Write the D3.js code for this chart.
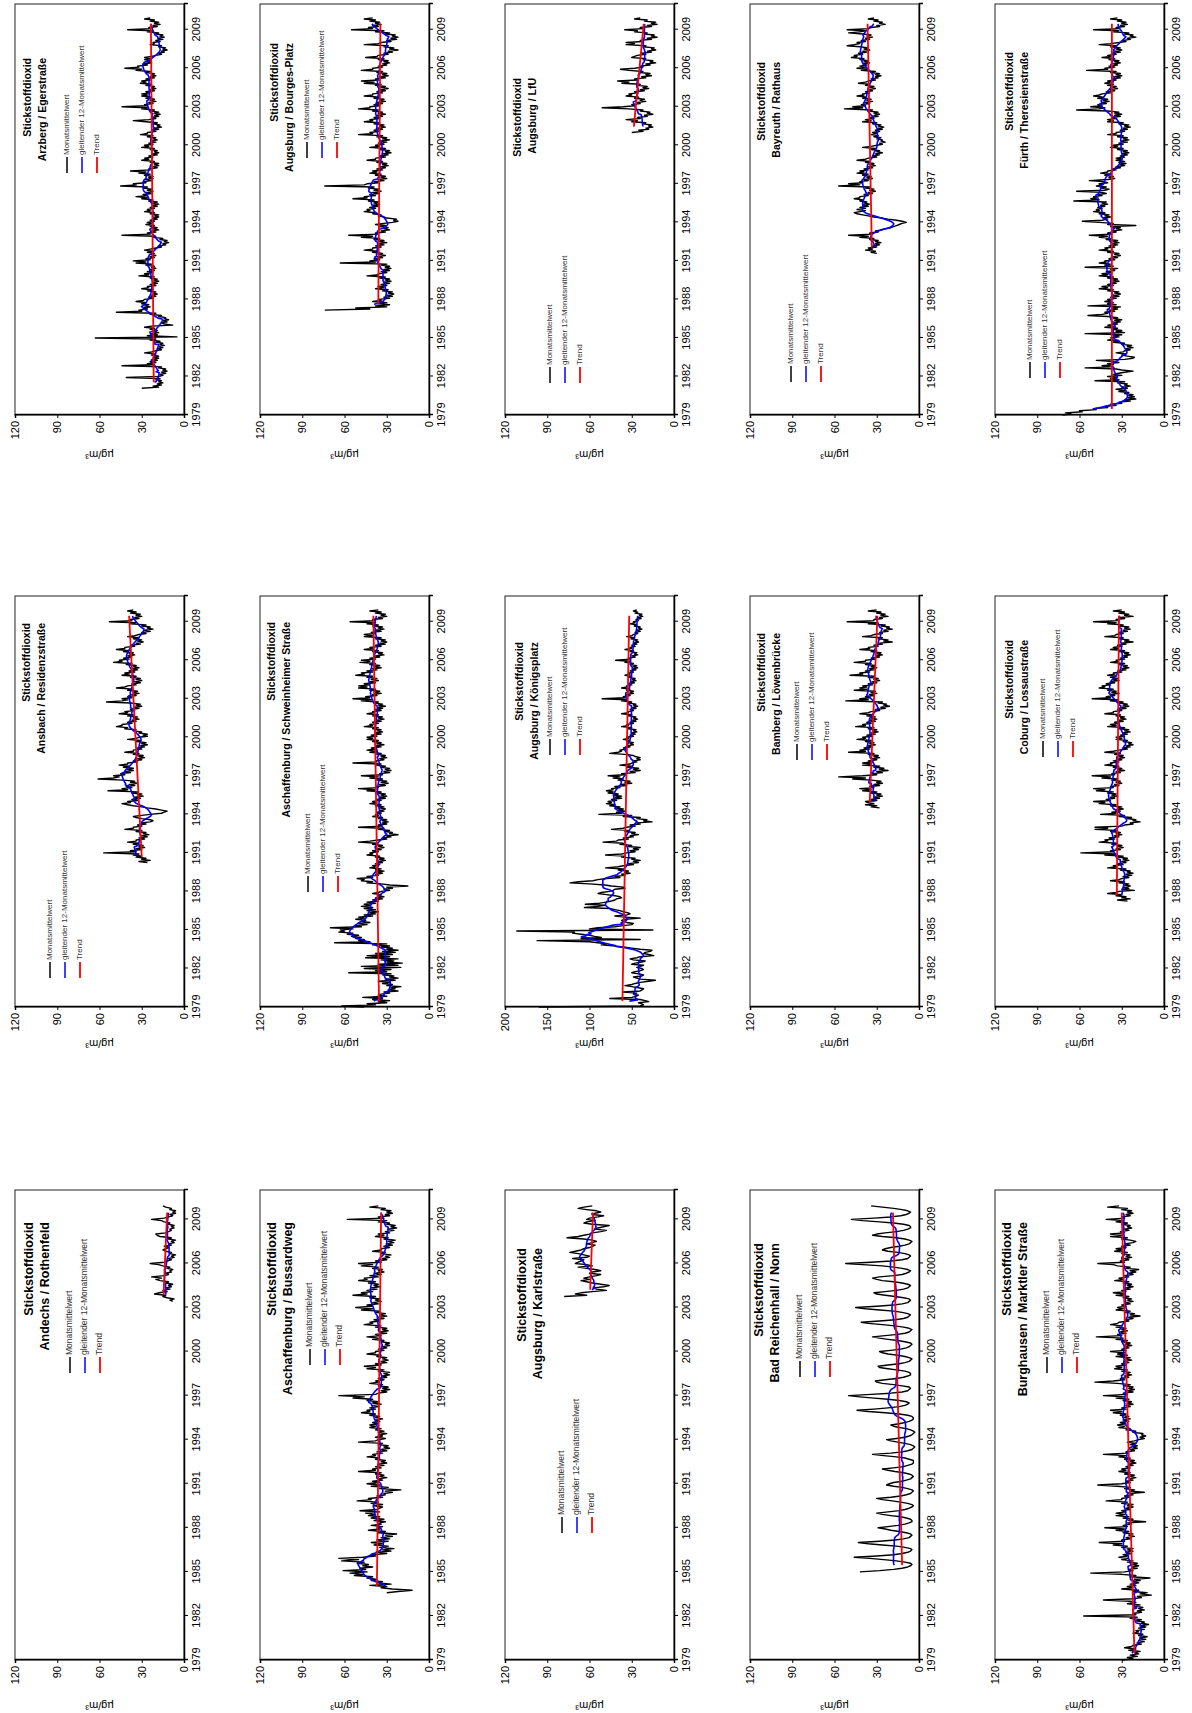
<!DOCTYPE html>
<html lang="de">
<head>
<meta charset="utf-8">
<title>Stickstoffdioxid – Monatsmittelwerte</title>
<script src="https://cdn.jsdelivr.net/npm/d3@7"></script>
<style>
  html, body { margin: 0; padding: 0; background: #fff; }
  svg { display: block; font-family: "Liberation Sans", Arial, sans-serif; }
</style>
</head>
<body>
<svg id="page" width="1192" height="1713"></svg>
<script>
/* NO2 monthly means of 15 stations, landscape sheet printed sideways */

const stations = [
  'Andechs / Rothenfeld', 'Ansbach / Residenzstraße', 'Arzberg / Egerstraße',
  'Aschaffenburg / Bussardweg', 'Aschaffenburg / Schweinheimer Straße', 'Augsburg / Bourges-Platz',
  'Augsburg / Karlstraße', 'Augsburg / Königsplatz', 'Augsburg / LfU',
  'Bad Reichenhall / Nonn', 'Bamberg / Löwenbrücke', 'Bayreuth / Rathaus',
  'Burghausen / Marktler Straße', 'Coburg / Lossaustraße', 'Fürth / Theresienstraße'
];
const startMonths = [
  '2003-06', '1990-04', '1981-02',
  '1983-08', '1979-01', '1987-03',
  '2003-10', '1979-01', '2001-01',
  '1985-01', '1994-07', '1991-08',
  '1979-01', '1987-04', '1979-01'
];
// trend line, value at start and at end
const trends = [
  [14.5, 12], [30, 39], [21.5, 23.5],
  [37, 34], [35.5, 39.5], [36, 34.5],
  [59.5, 57.5], [61, 53], [28.5, 21.5],
  [12, 18.5], [35, 29.5], [33.5, 36.5],
  [21, 30], [33.5, 32], [37, 37]
];
const yMaxes = [120, 120, 120, 120, 120, 120, 120, 200, 120, 120, 120, 120, 120, 120, 120];
const yearTicks = [1979, 1982, 1985, 1988, 1991, 1994, 1997, 2000, 2003, 2006, 2009];
const legendLabels = ['Monatsmittelwert', 'gleitender 12-Monatsmittelwert', 'Trend'];

// monthly means, one row per year
const andechs = [
  8, 10, 7, 12, 15, 13, 21,
  18, 12, 15, 10, 13, 9, 11, 8, 13, 11, 17, 20,
  16, 23, 14, 11, 13, 9, 10, 8, 12, 10, 15, 18,
  24, 14, 12, 9, 11, 7, 9, 6, 10, 9, 13, 15,
  13, 11, 14, 9, 11, 7, 9, 6, 11, 9, 17, 19,
  20, 13, 11, 9, 10, 7, 9, 7, 11, 10, 14, 16,
  23, 14, 11, 8, 10, 6, 8, 6, 10, 9, 13, 15
];
const ansbach = [
  26, 32, 24, 30, 27, 34, 30, 36, 32,
  57, 34, 38, 30, 34, 28, 32, 29, 36, 32, 40, 34,
  34, 28, 32, 26, 30, 25, 29, 27, 34, 30, 42, 36,
  36, 30, 33, 27, 30, 24, 22, 24, 30, 34, 36, 30,
  24, 16, 14, 12, 16, 20, 26, 30, 36, 40, 44, 38,
  40, 33, 37, 31, 35, 29, 33, 30, 37, 33, 54, 40,
  44, 37, 41, 35, 39, 33, 38, 35, 43, 61, 50, 46,
  50, 42, 45, 38, 42, 36, 40, 36, 43, 39, 46, 40,
  40, 33, 36, 30, 33, 28, 32, 29, 36, 32, 42, 36,
  36, 30, 33, 28, 31, 26, 30, 27, 34, 31, 40, 34,
  32, 26, 29, 26, 32, 30, 36, 34, 42, 40, 48, 44,
  44, 37, 40, 34, 37, 32, 36, 33, 40, 36, 46, 40,
  42, 35, 38, 32, 35, 30, 34, 31, 38, 55, 44, 40,
  44, 37, 40, 34, 37, 32, 36, 33, 40, 36, 48, 42,
  40, 34, 37, 31, 35, 30, 34, 31, 38, 34, 44, 39,
  42, 35, 39, 33, 37, 32, 36, 34, 41, 37, 50, 44,
  46, 39, 43, 37, 40, 35, 39, 36, 43, 39, 48, 42,
  42, 35, 38, 31, 34, 29, 33, 30, 36, 32, 40, 35,
  32, 27, 30, 24, 28, 22, 26, 24, 30, 27, 38, 34,
  53, 37, 38, 32, 35, 30, 34, 31, 38, 34, 40, 36
];
const arzberg = [
  30, 18, 22, 16, 19, 15, 18, 16, 20, 17, 41,
  18, 15, 17, 13, 16, 12, 15, 13, 18, 16, 44, 22,
  26, 20, 24, 19, 22, 18, 21, 18, 23, 20, 28, 23,
  20, 16, 19, 15, 18, 14, 17, 15, 20, 17, 24, 20,
  63, 5, 26, 19, 23, 18, 22, 19, 24, 21, 28, 23,
  8, 14, 16, 12, 15, 11, 14, 13, 18, 16, 24, 20,
  48, 30, 32, 26, 29, 24, 28, 25, 30, 27, 34, 29,
  28, 22, 25, 20, 23, 19, 22, 20, 26, 22, 30, 25,
  26, 20, 24, 19, 22, 18, 21, 19, 24, 21, 32, 25,
  28, 22, 26, 21, 24, 20, 23, 21, 27, 23, 34, 27,
  36, 24, 27, 21, 24, 20, 23, 21, 26, 22, 28, 24,
  20, 16, 18, 13, 15, 11, 14, 12, 17, 15, 22, 20,
  44, 24, 26, 20, 23, 18, 22, 19, 24, 21, 27, 23,
  26, 21, 24, 19, 22, 18, 21, 18, 24, 21, 28, 24,
  26, 21, 24, 19, 22, 18, 22, 19, 25, 22, 30, 26,
  34, 26, 29, 23, 27, 22, 26, 23, 29, 26, 45, 34,
  36, 27, 29, 23, 27, 22, 25, 22, 28, 24, 32, 27,
  38, 24, 25, 19, 22, 18, 21, 18, 24, 21, 30, 25,
  28, 22, 25, 19, 22, 18, 21, 19, 24, 21, 30, 25,
  28, 22, 25, 20, 23, 19, 22, 20, 26, 22, 31, 26,
  26, 20, 23, 18, 21, 16, 19, 17, 22, 19, 27, 36,
  25, 20, 23, 18, 21, 17, 21, 18, 24, 21, 30, 26,
  44, 26, 28, 22, 25, 20, 24, 21, 27, 23, 30, 26,
  30, 24, 27, 21, 24, 20, 23, 21, 27, 23, 31, 27,
  30, 24, 27, 21, 24, 20, 23, 21, 27, 24, 34, 30,
  42, 32, 33, 26, 29, 23, 27, 23, 28, 24, 28, 23,
  20, 16, 18, 14, 16, 12, 15, 13, 18, 16, 24, 21,
  22, 17, 20, 15, 18, 14, 17, 15, 20, 18, 26, 22,
  40, 24, 25, 19, 22, 17, 21, 18, 24, 21, 28, 24
];
const aschBussard = [
  30, 22, 12, 26, 34,
  30, 42, 27, 36, 33, 41, 38, 44, 40, 53, 47, 56,
  44, 61, 45, 49, 40, 47, 43, 51, 46, 62, 50, 64,
  47, 38, 41, 30, 36, 27, 33, 25, 35, 29, 39, 33,
  41, 29, 37, 28, 34, 26, 31, 23, 36, 31, 43, 35,
  37, 33, 41, 34, 35, 31, 39, 32, 41, 35, 43, 38,
  45, 35, 49, 37, 35, 33, 39, 33, 41, 36, 51, 41,
  43, 33, 37, 31, 32, 26, 31, 20, 35, 29, 41, 35,
  44, 36, 40, 33, 36, 30, 35, 32, 38, 34, 50, 38,
  40, 34, 38, 32, 36, 30, 34, 31, 38, 35, 44, 38,
  40, 33, 37, 30, 34, 28, 32, 29, 36, 33, 50, 38,
  36, 31, 38, 33, 35, 30, 36, 32, 38, 34, 42, 38,
  42, 36, 40, 35, 38, 33, 38, 35, 42, 38, 48, 42,
  44, 38, 42, 36, 40, 34, 40, 36, 44, 40, 54, 46,
  64, 38, 36, 30, 34, 28, 33, 29, 36, 33, 42, 36,
  38, 32, 36, 30, 33, 28, 32, 28, 36, 32, 44, 38,
  46, 34, 38, 30, 34, 29, 33, 30, 37, 34, 44, 38,
  38, 32, 36, 30, 33, 28, 31, 28, 34, 32, 40, 36,
  44, 34, 38, 30, 35, 29, 33, 30, 38, 34, 46, 40,
  42, 35, 39, 32, 36, 30, 35, 31, 38, 35, 48, 40,
  52, 40, 44, 36, 40, 34, 38, 35, 42, 38, 54, 44,
  48, 40, 44, 37, 41, 35, 39, 36, 43, 38, 50, 44,
  46, 36, 42, 34, 38, 32, 36, 33, 40, 36, 48, 40,
  50, 34, 38, 30, 33, 28, 31, 27, 34, 31, 40, 34,
  34, 28, 32, 26, 30, 25, 29, 24, 32, 29, 38, 32,
  36, 28, 31, 25, 29, 23, 27, 24, 30, 28, 36, 30,
  58, 32, 36, 28, 31, 26, 30, 27, 34, 31, 42, 36
];
const aschSchwein = [
  46, 62, 38, 44, 30, 36, 28, 40, 33, 47, 30, 36,
  34, 28, 32, 22, 29, 24, 27, 20, 30, 26, 33, 28,
  36, 24, 31, 22, 28, 25, 33, 27, 57, 30, 38, 27,
  46, 20, 48, 22, 36, 19, 30, 25, 34, 22, 45, 28,
  44, 26, 38, 24, 33, 22, 30, 26, 34, 28, 40, 30,
  67, 42, 50, 46, 52, 48, 55, 50, 58, 54, 64, 60,
  63, 54, 70, 48, 52, 44, 50, 42, 48, 45, 52, 46,
  50, 40, 46, 38, 42, 36, 44, 38, 46, 40, 48, 42,
  46, 38, 44, 36, 40, 33, 38, 32, 36, 34, 40, 36,
  34, 28, 32, 26, 30, 15, 28, 34, 44, 40, 48, 46,
  51, 40, 44, 36, 38, 33, 37, 32, 38, 34, 42, 38,
  40, 35, 38, 33, 36, 31, 35, 32, 38, 35, 44, 40,
  42, 36, 40, 34, 37, 32, 36, 33, 40, 37, 50, 42,
  36, 30, 33, 27, 30, 22, 28, 26, 31, 28, 36, 32,
  50, 34, 36, 30, 33, 29, 33, 30, 36, 33, 40, 36,
  38, 34, 37, 32, 35, 31, 35, 32, 38, 34, 42, 37,
  40, 34, 37, 31, 35, 30, 34, 31, 38, 34, 44, 38,
  50, 36, 38, 31, 35, 29, 34, 30, 37, 33, 42, 36,
  48, 33, 35, 28, 32, 27, 31, 28, 34, 31, 38, 34,
  54, 37, 38, 32, 35, 30, 34, 31, 37, 34, 42, 37,
  44, 38, 41, 34, 38, 32, 37, 34, 40, 36, 44, 40,
  44, 37, 41, 34, 38, 33, 37, 34, 40, 36, 46, 40,
  42, 36, 40, 34, 37, 32, 36, 33, 40, 36, 44, 39,
  40, 34, 38, 33, 36, 31, 36, 33, 39, 36, 48, 40,
  54, 42, 45, 37, 40, 34, 39, 35, 42, 38, 50, 44,
  50, 42, 46, 38, 42, 36, 41, 37, 44, 40, 52, 46,
  48, 40, 44, 37, 40, 34, 39, 35, 42, 38, 49, 42,
  48, 38, 42, 35, 38, 32, 36, 33, 40, 36, 46, 40,
  42, 34, 38, 31, 35, 30, 34, 31, 38, 34, 46, 40,
  46, 38, 41, 34, 38, 32, 36, 33, 40, 36, 44, 38,
  56, 38, 40, 33, 36, 30, 34, 31, 38, 34, 42, 36
];
const augBourges = [
  74, 42, 52, 30, 38, 28, 36, 30, 40, 34,
  36, 28, 32, 26, 30, 25, 29, 26, 33, 29, 38, 32,
  36, 30, 34, 28, 32, 27, 31, 28, 35, 31, 44, 36,
  36, 30, 34, 28, 32, 27, 31, 28, 34, 30, 63, 38,
  42, 35, 39, 33, 37, 31, 36, 33, 40, 36, 46, 40,
  40, 34, 38, 32, 36, 30, 35, 32, 39, 35, 48, 40,
  57, 36, 38, 31, 34, 28, 32, 29, 35, 31, 38, 32,
  26, 22, 25, 23, 30, 32, 36, 34, 40, 38, 46, 42,
  44, 38, 42, 36, 40, 35, 39, 36, 43, 39, 54, 44,
  46, 38, 42, 36, 40, 34, 39, 36, 43, 39, 74, 46,
  44, 36, 39, 32, 36, 30, 34, 31, 38, 34, 42, 37,
  40, 33, 37, 31, 34, 29, 33, 30, 37, 33, 44, 38,
  38, 31, 35, 29, 33, 27, 31, 28, 35, 31, 42, 36,
  38, 32, 36, 30, 34, 28, 33, 30, 37, 33, 50, 40,
  42, 35, 39, 33, 37, 31, 35, 32, 39, 35, 46, 40,
  42, 35, 39, 33, 37, 31, 36, 33, 40, 36, 50, 42,
  42, 35, 39, 33, 37, 31, 35, 32, 39, 35, 46, 40,
  40, 33, 37, 31, 35, 29, 34, 31, 38, 34, 46, 39,
  48, 36, 38, 31, 35, 29, 33, 30, 37, 33, 48, 40,
  40, 33, 36, 30, 33, 28, 32, 29, 36, 32, 45, 37,
  36, 29, 32, 26, 29, 22, 28, 25, 32, 29, 46, 36,
  34, 27, 30, 23, 27, 22, 26, 24, 31, 28, 38, 32,
  55, 40, 43, 36, 40, 34, 38, 35, 42, 38, 46, 40
];
const augKarl = [
  78, 62, 70,
  66, 58, 48, 55, 57, 50, 46, 52, 58, 62, 66, 60,
  64, 60, 55, 52, 60, 58, 52, 56, 62, 68, 58, 62,
  70, 68, 66, 64, 72, 62, 60, 64, 68, 74, 70, 66,
  64, 60, 58, 56, 62, 58, 55, 58, 64, 76, 68, 64,
  60, 58, 52, 48, 56, 54, 50, 46, 58, 64, 62, 56,
  62, 60, 54, 50, 58, 56, 52, 55, 62, 68, 64, 58
];
const augKoenig = [
  160, 40, 36, 38, 42, 30, 34, 40, 76, 50, 45, 42,
  48, 44, 60, 40, 38, 36, 42, 50, 58, 50, 46, 40,
  30, 22, 40, 44, 48, 38, 36, 42, 50, 46, 40, 36,
  38, 44, 40, 36, 50, 46, 38, 34, 48, 52, 44, 40,
  24, 30, 36, 34, 28, 26, 40, 50, 60, 70, 86, 80,
  90, 100, 162, 40, 110, 86, 94, 100, 110, 120, 118, 186,
  25, 100, 90, 70, 60, 50, 48, 56, 60, 62, 58, 40,
  58, 70, 56, 52, 54, 60, 64, 70, 76, 106, 90, 82,
  105, 88, 80, 74, 70, 68, 62, 64, 70, 80, 90, 86,
  76, 72, 70, 58, 60, 74, 82, 100, 123, 113, 96, 90,
  80, 64, 70, 58, 62, 52, 58, 54, 66, 60, 81, 66,
  60, 48, 54, 42, 48, 40, 50, 46, 62, 58, 81, 62,
  56, 46, 52, 42, 48, 40, 54, 50, 64, 60, 84, 68,
  66, 54, 60, 48, 52, 42, 50, 46, 58, 54, 74, 60,
  56, 46, 52, 40, 44, 26, 36, 32, 44, 40, 60, 50,
  89, 62, 68, 58, 66, 60, 70, 64, 76, 70, 80, 74,
  78, 68, 74, 62, 70, 62, 72, 66, 78, 72, 80, 72,
  74, 64, 70, 56, 62, 50, 58, 52, 66, 60, 72, 64,
  78, 58, 62, 46, 52, 40, 48, 42, 56, 50, 64, 52,
  50, 44, 48, 40, 44, 40, 46, 48, 58, 76, 66, 62,
  64, 56, 60, 52, 56, 48, 52, 48, 56, 52, 60, 54,
  56, 48, 52, 46, 50, 44, 48, 45, 54, 50, 62, 54,
  56, 48, 52, 45, 49, 43, 48, 45, 54, 50, 62, 54,
  54, 48, 52, 45, 49, 43, 48, 45, 54, 50, 62, 56,
  85, 58, 60, 52, 56, 48, 52, 48, 56, 52, 62, 56,
  56, 50, 54, 47, 51, 45, 49, 46, 54, 50, 58, 52,
  54, 48, 52, 45, 49, 43, 48, 44, 52, 48, 58, 52,
  69, 52, 54, 46, 50, 43, 47, 44, 52, 48, 58, 50,
  52, 46, 50, 44, 48, 42, 46, 43, 51, 47, 56, 50,
  48, 43, 46, 40, 44, 38, 42, 40, 47, 44, 52, 46,
  48, 42, 45, 39, 43, 37, 41, 38, 46, 43, 48, 44
];
const augLfu = [
  30, 22, 25, 18, 20, 15, 18, 16, 22, 20, 30, 26,
  34, 24, 26, 19, 21, 15, 19, 17, 24, 22, 32, 51,
  36, 28, 30, 24, 26, 20, 24, 21, 28, 25, 34, 30,
  32, 26, 28, 21, 24, 18, 22, 19, 26, 24, 37, 32,
  40, 26, 28, 20, 23, 16, 20, 17, 24, 22, 32, 38,
  28, 22, 24, 17, 20, 13, 17, 15, 22, 20, 30, 28,
  26, 20, 23, 16, 19, 13, 16, 14, 22, 20, 34, 28,
  34, 22, 24, 16, 19, 12, 16, 14, 21, 19, 28, 26,
  35, 22, 24, 16, 19, 12, 16, 13, 21, 19, 28, 24
];
const badReichenhall = [
  42, 28, 18, 12, 8, 6, 5, 6, 10, 16, 25, 35,
  46, 30, 18, 12, 8, 6, 5, 6, 10, 16, 26, 36,
  43, 28, 17, 11, 7, 6, 5, 6, 9, 14, 20, 24,
  29, 22, 15, 10, 7, 5, 5, 6, 9, 13, 20, 26,
  30, 22, 14, 10, 7, 5, 4, 5, 8, 13, 19, 26,
  30, 20, 13, 9, 6, 5, 4, 5, 8, 12, 18, 23,
  21, 18, 12, 9, 6, 5, 4, 5, 7, 11, 17, 22,
  26, 18, 11, 8, 5, 4, 4, 4, 7, 10, 16, 25,
  33, 20, 12, 8, 5, 4, 3, 4, 6, 10, 15, 20,
  23, 16, 10, 7, 5, 4, 3, 4, 6, 9, 14, 18,
  20, 14, 10, 7, 5, 4, 4, 5, 8, 14, 24, 36,
  44, 32, 22, 14, 10, 8, 7, 9, 14, 22, 32, 42,
  50, 34, 20, 12, 8, 7, 6, 7, 12, 18, 26, 30,
  31, 24, 16, 11, 8, 6, 6, 7, 10, 16, 22, 28,
  29, 22, 14, 10, 7, 6, 5, 7, 10, 15, 22, 26,
  28, 20, 13, 9, 7, 6, 5, 6, 10, 15, 22, 28,
  33, 24, 15, 10, 7, 6, 5, 7, 11, 17, 26, 36,
  41, 28, 17, 11, 8, 7, 6, 8, 12, 18, 28, 38,
  45, 30, 18, 12, 8, 7, 6, 7, 11, 17, 24, 30,
  32, 24, 16, 11, 8, 7, 6, 8, 12, 18, 26, 30,
  33, 28, 18, 12, 9, 7, 6, 8, 12, 18, 26, 40,
  52, 34, 20, 12, 8, 7, 6, 7, 10, 15, 22, 26,
  24, 20, 14, 10, 7, 6, 5, 7, 10, 16, 26, 33,
  30, 24, 16, 11, 8, 6, 6, 7, 11, 18, 28, 40,
  48, 32, 20, 13, 9, 7, 6, 8, 12, 18, 26, 34
];
const bamberg = [
  28, 34, 30, 38, 32, 36,
  38, 30, 34, 28, 32, 26, 30, 27, 34, 30, 40, 34,
  42, 32, 35, 28, 32, 26, 30, 27, 34, 47, 38, 57,
  40, 30, 33, 26, 30, 22, 28, 25, 32, 28, 40, 34,
  40, 33, 36, 30, 33, 28, 32, 29, 36, 32, 50, 38,
  42, 35, 39, 33, 36, 31, 35, 32, 38, 34, 44, 38,
  40, 33, 37, 31, 34, 29, 33, 30, 36, 32, 45, 38,
  40, 34, 37, 31, 35, 30, 34, 31, 37, 33, 42, 36,
  34, 28, 31, 24, 27, 21, 25, 23, 29, 26, 52, 36,
  42, 35, 38, 32, 35, 30, 34, 31, 46, 36, 42, 37,
  40, 33, 36, 30, 33, 28, 32, 29, 36, 32, 49, 40,
  42, 35, 38, 32, 35, 30, 34, 31, 38, 34, 46, 38,
  38, 31, 34, 28, 31, 26, 30, 27, 34, 30, 42, 35,
  36, 29, 32, 26, 28, 19, 25, 22, 29, 26, 40, 34,
  32, 26, 28, 22, 25, 19, 23, 21, 27, 24, 36, 30,
  51, 32, 32, 26, 28, 22, 27, 24, 30, 27, 36, 30
];
const bayreuth = [
  30, 34, 31, 38, 33,
  36, 30, 33, 28, 31, 27, 31, 29, 35, 32, 42, 36,
  50, 33, 35, 29, 31, 26, 24, 20, 18, 16, 14, 12,
  9, 12, 16, 22, 26, 32, 36, 40, 44, 46, 42, 38,
  44, 38, 42, 36, 40, 35, 39, 37, 42, 40, 46, 42,
  42, 36, 39, 33, 36, 31, 35, 32, 38, 35, 57, 42,
  50, 40, 42, 36, 39, 33, 37, 34, 40, 36, 44, 39,
  42, 36, 39, 33, 36, 31, 35, 32, 38, 35, 44, 38,
  36, 30, 33, 28, 31, 26, 30, 28, 34, 31, 40, 34,
  30, 26, 28, 24, 27, 26, 30, 27, 32, 29, 34, 30,
  33, 28, 31, 26, 29, 25, 29, 27, 33, 30, 40, 34,
  38, 32, 35, 29, 32, 28, 32, 29, 36, 33, 53, 40,
  47, 38, 41, 35, 38, 33, 37, 34, 40, 37, 44, 39,
  40, 35, 38, 33, 36, 31, 35, 32, 38, 35, 43, 38,
  36, 31, 34, 29, 31, 27, 31, 28, 34, 31, 41, 36,
  44, 38, 42, 37, 40, 35, 39, 36, 42, 39, 48, 44,
  46, 40, 43, 37, 40, 35, 39, 36, 42, 51, 46, 42,
  44, 38, 41, 35, 38, 33, 37, 34, 40, 50, 42, 38,
  51, 36, 34, 28, 30, 24, 28, 26, 32, 29, 36, 32
];
const burghausen = [
  30, 22, 26, 19, 24, 18, 21, 17, 25, 20, 28, 23,
  22, 16, 19, 14, 18, 13, 17, 12, 18, 15, 22, 18,
  20, 14, 18, 13, 17, 11, 16, 14, 20, 16, 24, 19,
  57, 20, 22, 16, 19, 14, 18, 15, 21, 17, 26, 20,
  24, 43, 22, 16, 19, 9, 17, 12, 22, 18, 30, 22,
  26, 20, 24, 18, 22, 17, 21, 10, 24, 20, 30, 52,
  28, 22, 25, 19, 23, 18, 22, 19, 26, 22, 30, 26,
  32, 25, 29, 23, 27, 22, 26, 22, 30, 26, 36, 30,
  46, 28, 30, 24, 27, 21, 25, 22, 29, 25, 34, 28,
  42, 26, 29, 23, 26, 13, 25, 22, 29, 25, 34, 28,
  34, 27, 30, 24, 27, 22, 26, 22, 30, 26, 41, 30,
  30, 25, 28, 22, 25, 14, 24, 21, 28, 24, 33, 47,
  30, 24, 27, 22, 25, 20, 24, 21, 28, 24, 32, 27,
  30, 24, 27, 22, 25, 20, 24, 21, 28, 24, 32, 27,
  43, 26, 27, 21, 24, 19, 22, 19, 24, 20, 26, 21,
  18, 14, 17, 13, 16, 15, 22, 20, 27, 24, 32, 28,
  33, 27, 31, 25, 29, 24, 28, 25, 31, 27, 36, 30,
  38, 27, 30, 24, 27, 22, 26, 23, 29, 25, 34, 28,
  43, 26, 29, 22, 26, 21, 25, 22, 28, 24, 33, 49,
  36, 28, 31, 25, 28, 23, 27, 24, 30, 26, 35, 30,
  34, 27, 30, 25, 28, 23, 27, 24, 34, 26, 33, 28,
  38, 27, 30, 25, 28, 23, 27, 24, 30, 26, 34, 29,
  48, 30, 33, 27, 31, 26, 30, 27, 34, 30, 38, 33,
  32, 25, 28, 22, 25, 17, 24, 21, 28, 24, 34, 29,
  33, 27, 30, 24, 27, 22, 26, 23, 29, 25, 34, 28,
  36, 27, 30, 24, 27, 22, 26, 23, 29, 25, 35, 29,
  32, 25, 28, 22, 25, 20, 24, 18, 27, 24, 33, 36,
  47, 28, 31, 25, 28, 23, 27, 24, 30, 26, 35, 30,
  34, 27, 30, 24, 28, 22, 20, 24, 30, 26, 38, 30,
  38, 28, 31, 25, 28, 23, 26, 24, 30, 26, 34, 29,
  41, 28, 30, 24, 27, 22, 26, 23, 30, 26, 40, 32
];
const coburg = [
  26, 33, 24, 30, 27, 34, 30, 40, 34,
  32, 21, 30, 25, 29, 24, 28, 25, 32, 28, 38, 32,
  30, 25, 29, 23, 27, 22, 26, 24, 31, 27, 40, 34,
  36, 29, 33, 27, 30, 25, 29, 26, 33, 29, 42, 34,
  59, 36, 38, 31, 34, 29, 33, 30, 37, 33, 46, 40,
  42, 35, 39, 32, 35, 30, 34, 31, 38, 34, 49, 40,
  49, 30, 28, 22, 24, 17, 22, 20, 26, 23, 32, 28,
  45, 34, 37, 31, 34, 29, 33, 30, 38, 34, 46, 42,
  50, 38, 41, 35, 38, 33, 37, 34, 40, 36, 48, 42,
  50, 36, 38, 32, 35, 30, 34, 31, 37, 33, 44, 38,
  51, 35, 37, 31, 34, 28, 33, 30, 36, 32, 42, 37,
  38, 32, 36, 30, 33, 28, 32, 29, 35, 31, 42, 36,
  32, 26, 29, 24, 27, 22, 25, 23, 29, 26, 34, 30,
  34, 28, 31, 26, 29, 24, 28, 25, 32, 28, 40, 34,
  38, 32, 35, 29, 32, 27, 31, 28, 34, 31, 42, 36,
  36, 30, 33, 27, 30, 25, 29, 26, 32, 29, 38, 33,
  51, 38, 41, 35, 38, 32, 37, 34, 40, 36, 46, 42,
  44, 38, 41, 35, 38, 32, 36, 33, 38, 34, 40, 35,
  36, 30, 33, 27, 30, 25, 29, 26, 32, 28, 38, 33,
  34, 28, 31, 26, 29, 24, 28, 25, 32, 28, 38, 33,
  36, 30, 33, 27, 30, 22, 28, 25, 32, 29, 42, 35,
  34, 29, 32, 26, 29, 24, 28, 25, 32, 29, 40, 34,
  50, 33, 34, 28, 31, 22, 28, 25, 32, 28, 36, 30
];
const fuerth = [
  72, 66, 70, 58, 60, 48, 50, 40, 42, 34, 38, 30,
  32, 24, 28, 20, 26, 21, 25, 22, 28, 25, 32, 28,
  34, 26, 30, 24, 28, 26, 33, 28, 49, 32, 38, 33,
  40, 30, 36, 32, 28, 22, 30, 34, 56, 38, 44, 36,
  40, 32, 36, 48, 28, 22, 21, 26, 30, 27, 34, 29,
  28, 24, 27, 22, 26, 23, 30, 28, 36, 32, 40, 36,
  38, 32, 36, 30, 56, 28, 34, 30, 37, 33, 42, 36,
  40, 33, 37, 31, 35, 30, 36, 33, 40, 54, 44, 40,
  42, 35, 39, 33, 37, 31, 54, 34, 40, 36, 42, 38,
  40, 34, 38, 32, 36, 31, 35, 32, 40, 36, 46, 40,
  44, 36, 40, 34, 37, 32, 36, 33, 40, 36, 46, 40,
  44, 37, 41, 35, 38, 33, 56, 36, 42, 38, 46, 41,
  42, 35, 39, 33, 36, 31, 35, 32, 40, 36, 46, 40,
  42, 35, 39, 33, 37, 32, 36, 33, 41, 37, 46, 40,
  53, 38, 40, 34, 36, 30, 34, 31, 38, 20, 40, 36,
  46, 58, 44, 40, 43, 38, 42, 39, 46, 42, 50, 46,
  48, 44, 47, 42, 45, 40, 44, 41, 64, 46, 52, 48,
  50, 44, 47, 41, 44, 62, 42, 39, 45, 41, 48, 44,
  46, 40, 43, 53, 40, 35, 39, 36, 42, 38, 45, 40,
  40, 34, 37, 31, 34, 28, 31, 27, 32, 28, 34, 30,
  34, 28, 31, 26, 30, 25, 29, 26, 33, 29, 38, 33,
  36, 29, 32, 26, 30, 25, 29, 26, 33, 29, 40, 34,
  34, 28, 31, 26, 29, 24, 28, 25, 32, 29, 40, 36,
  40, 34, 37, 31, 35, 30, 35, 32, 40, 62, 46, 42,
  52, 44, 47, 41, 44, 39, 43, 40, 47, 43, 50, 46,
  44, 38, 41, 35, 38, 33, 37, 34, 40, 36, 42, 38,
  40, 34, 37, 31, 35, 30, 34, 31, 38, 34, 55, 40,
  42, 35, 39, 33, 36, 31, 35, 32, 39, 35, 44, 38,
  40, 34, 37, 31, 35, 30, 34, 31, 38, 34, 46, 38,
  32, 27, 29, 24, 26, 20, 24, 22, 28, 25, 36, 32,
  50, 32, 34, 28, 31, 26, 30, 27, 33, 30, 38, 33
];
const series = [
  andechs, ansbach, arzberg,
  aschBussard, aschSchwein, augBourges,
  augKarl, augKoenig, augLfu,
  badReichenhall, bamberg, bayreuth,
  burghausen, coburg, fuerth
];

// ---- layout (landscape sheet, 1713 x 1192, turned onto the portrait canvas) ----
const SHEET_W = 1713;
const COLS = [
  { left: 53, right: 523, titleSize: 12.5, titleGap: 16, legendSize: 8.5, unitDx: -42 },
  { left: 706, right: 1117, titleSize: 10.5, titleGap: 15, legendSize: 8, unitDx: -33 },
  { left: 1298, right: 1709, titleSize: 10.5, titleGap: 15, legendSize: 8, unitDx: -36 }
];
const ROW_TOPS = [15, 260, 505, 750, 995];
const PLOT_H = 169;
// legend: offset of first line from plot left / plot top
const legendPos = [
  [287, 55], [29, 35], [242, 52],
  [295, 50], [115, 48], [257, 47],
  [127, 57], [252, 45], [32, 45],
  [283, 50], [247, 47], [33, 41],
  [287, 52], [250, 48], [37, 35]
];
// title: right end relative to plot right, first line relative to plot top
const titlePos = [
  [-32, 15], [-27, 12], [-54, 13],
  [-32, 13], [-26, 12], [-39, 15],
  [-58, 18], [-46, 15], [-74, 13],
  [-53, 10], [-37, 12], [-58, 12],
  [-32, 13], [-44, 15], [-48, 15]
];

const svg = d3.select('#page');
svg.append('rect').attr('width', 1192).attr('height', 1713).attr('fill', '#fff');
const sheet = svg.append('g')
  .attr('transform', `translate(0,${SHEET_W}) rotate(-90)`);

function monthlyPoints(i) {
  const [sy, sm] = startMonths[i].split('-').map(Number);
  return series[i].map((v, k) => ({ t: sy + (sm - 1 + k) / 12, v }));
}

function movingAverage(pts) {
  // centred 12-month mean
  const out = [];
  for (let k = 6; k <= pts.length - 6; k++) {
    out.push({ t: pts[k].t - 1 / 24, v: d3.mean(pts.slice(k - 6, k + 6), d => d.v) });
  }
  return out;
}

function styleAxis(sel) {
  sel.attr('font-family', null).attr('font-size', null);
  sel.select('.domain').attr('stroke', '#000').attr('stroke-width', 1.5);
  sel.selectAll('.tick line').attr('stroke', '#000').attr('stroke-width', 1);
  sel.selectAll('.tick text').attr('fill', '#000').style('font-size', '11px');
}

function drawPanel(i) {
  const col = COLS[i % 3];
  const top = ROW_TOPS[Math.floor(i / 3)];
  const bottom = top + PLOT_H;
  const yMax = yMaxes[i];

  const x = d3.scaleLinear().domain([1979, 2011]).range([col.left, col.right]);
  const y = d3.scaleLinear().domain([0, yMax]).range([bottom, top]);
  const g = sheet.append('g').attr('class', 'panel');

  // plot frame
  g.append('rect')
    .attr('x', col.left).attr('y', top)
    .attr('width', col.right - col.left).attr('height', PLOT_H)
    .attr('fill', 'none').attr('stroke', '#222').attr('stroke-width', 1);

  g.append('g')
    .attr('transform', `translate(0,${bottom})`)
    .call(d3.axisBottom(x).tickValues(yearTicks).tickFormat(d3.format('d')).tickSizeOuter(0).tickSize(4).tickPadding(4))
    .call(styleAxis);

  g.append('g')
    .attr('transform', `translate(${col.left},0)`)
    .call(d3.axisLeft(y).tickValues(d3.range(0, yMax + 1, yMax / 4)).tickSizeOuter(0).tickSize(3).tickPadding(3))
    .call(styleAxis);

  g.append('text')
    .attr('transform', `translate(${col.left + col.unitDx},${top + PLOT_H / 2}) rotate(-90)`)
    .attr('text-anchor', 'middle')
    .style('font-size', '11px')
    .text('µg/m³');

  const pts = monthlyPoints(i);
  const avg = movingAverage(pts);
  const line = d3.line().x(d => x(d.t)).y(d => y(d.v));

  g.append('path').datum(pts)
    .attr('d', line).attr('fill', 'none')
    .attr('stroke', '#000').attr('stroke-width', 1.4).attr('stroke-linejoin', 'round');

  g.append('path').datum(avg)
    .attr('d', line).attr('fill', 'none')
    .attr('stroke', '#0000ff').attr('stroke-width', 1.6).attr('stroke-linejoin', 'round');

  const trendPts = [
    { t: avg[0].t, v: trends[i][0] },
    { t: avg[avg.length - 1].t, v: trends[i][1] }
  ];
  g.append('path').datum(trendPts)
    .attr('d', line).attr('fill', 'none')
    .attr('stroke', '#ff0000').attr('stroke-width', 1.8);

  // title
  const tx = col.right + titlePos[i][0];
  const ty = top + titlePos[i][1];
  ['Stickstoffdioxid', stations[i]].forEach((s, k) => {
    g.append('text')
      .attr('x', tx).attr('y', ty + k * col.titleGap)
      .attr('text-anchor', 'end').attr('dominant-baseline', 'middle')
      .attr('font-weight', 'bold')
      .style('font-size', col.titleSize + 'px')
      .text(s);
  });

  // legend
  const lx = col.left + legendPos[i][0];
  const ly = top + legendPos[i][1];
  const legendColors = ['#000', '#0000ff', '#ff0000'];
  legendLabels.forEach((s, k) => {
    g.append('line')
      .attr('x1', lx).attr('x2', lx + 16)
      .attr('y1', ly + k * 15).attr('y2', ly + k * 15)
      .attr('stroke', legendColors[k]).attr('stroke-width', k === 2 ? 1.8 : 1.5);
    g.append('text')
      .attr('x', lx + 18).attr('y', ly + k * 15)
      .attr('dominant-baseline', 'middle')
      .attr('fill', '#333')
      .style('font-size', col.legendSize + 'px')
      .text(s);
  });
}

stations.forEach((s, i) => drawPanel(i));
</script>
</body>
</html>
